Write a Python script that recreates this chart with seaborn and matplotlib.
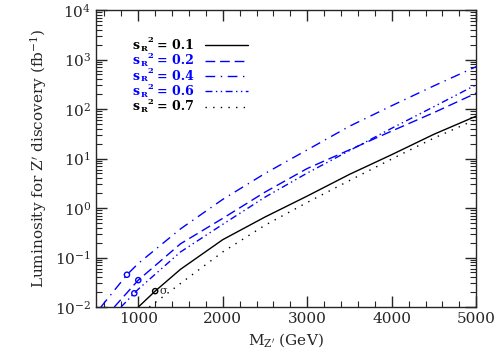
import matplotlib
matplotlib.use("Agg")
import matplotlib.pyplot as plt
from matplotlib.transforms import offset_copy
import seaborn as sns

# Z' discovery luminosity curves
m_01 = [1000, 1200, 1500, 2000, 2500, 3000, 3500, 4000, 4500, 5000]
l_01 = [0.01, 0.021, 0.058, 0.23, 0.66, 1.75, 4.8, 12, 31, 72]

m_02 = [715, 1000, 1500, 2000, 2500, 3000, 3500, 4000, 4500, 5000]
l_02 = [0.01, 0.035, 0.19, 0.62, 2.1, 6.3, 15, 36, 85, 210]

m_04 = [557, 866, 1000, 1500, 2000, 2500, 3000, 3500, 4000, 4500, 5000]
l_04 = [0.01, 0.045, 0.076, 0.38, 1.5, 5.0, 15, 45, 117, 295, 720]

m_06 = [795, 953, 1000, 1500, 2000, 2500, 3000, 3500, 4000, 4500, 5000]
l_06 = [0.01, 0.019, 0.023, 0.13, 0.47, 1.66, 5.1, 14.5, 41, 112, 310]

m_07 = [1130, 1500, 2000, 2500, 3000, 3500, 4000, 4500, 5000]
l_07 = [0.01, 0.030, 0.13, 0.45, 1.3, 3.6, 9.8, 26, 62]

# small circles marking the curves
circ_m = [1200, 1000, 866, 953]
circ_l = [0.021, 0.035, 0.045, 0.019]
circ_c = ["black", "blue", "blue", "blue"]

labels = ["0.1", "0.2", "0.4", "0.6", "0.7"]
colors = ["black", "blue", "blue", "blue", "black"]
styles = ["-", (0, (7, 3.5)), (0, (7, 4, 1, 4)), (0, (5, 2.5, 1, 2.5, 1, 2.5)), (0, (1, 4.5))]

sns.set_style("ticks")
plt.rcParams["font.family"] = ["DejaVu Serif"]
plt.rcParams["mathtext.fontset"] = "dejavuserif"

fig = plt.figure(figsize=(4.95, 3.6), dpi=100)
ax = fig.add_axes([0.194, 0.147, 0.768, 0.825])

curves = [(m_01, l_01), (m_02, l_02), (m_04, l_04), (m_06, l_06), (m_07, l_07)]
for (m, l), c, ls in zip(curves, colors, styles):
    sns.lineplot(x=m, y=l, ax=ax, color=c, linestyle=ls, linewidth=1.0)

for m, l, c in zip(circ_m, circ_l, circ_c):
    ax.scatter([m], [l], s=14, facecolors="none", edgecolors=c, linewidths=1.0, zorder=3)
ax.text(1255, 0.0215, "σ", fontsize=8, va="center", ha="left")

ax.set_yscale("log")
ax.set_xlim(500, 5000)
ax.set_ylim(1e-2, 1e4)
ax.set_xticks([1000, 2000, 3000, 4000, 5000])
ax.set_yticks([1e-2, 1e-1, 1e0, 1e1, 1e2, 1e3, 1e4])
ax.xaxis.set_minor_locator(matplotlib.ticker.MultipleLocator(200))
ax.yaxis.set_minor_locator(matplotlib.ticker.LogLocator(base=10, subs=range(2, 10), numticks=20))
ax.yaxis.set_minor_formatter(matplotlib.ticker.NullFormatter())
ax.tick_params(which="both", direction="in", top=True, right=True, labelsize=11)
ax.tick_params(which="major", length=8, width=1)
ax.tick_params(which="minor", length=4, width=0.8)
for s in ax.spines.values():
    s.set_linewidth(1.0)

ax.set_xlabel(r"M$_{\rm Z'}$ (GeV)", fontsize=11)
ax.set_ylabel(r"Luminosity for Z$'$ discovery (fb$^{-1}$)", fontsize=11)

# legend drawn by hand: s_R^2 = value, then a line sample
for i, (lab, c, ls) in enumerate(zip(labels, colors, styles)):
    yy = 0.882 - i * 0.052
    kw = dict(color=c, fontweight="bold", va="center", ha="left")
    ax.text(0.097, yy, "s", fontsize=9, transform=ax.transAxes, **kw)
    ax.text(0.097, yy, "R", fontsize=6,
            transform=offset_copy(ax.transAxes, fig, x=5.6, y=-2.5, units="points"), **kw)
    ax.text(0.097, yy, "2", fontsize=6,
            transform=offset_copy(ax.transAxes, fig, x=10.2, y=3.5, units="points"), **kw)
    ax.text(0.097, yy, "= " + lab, fontsize=9,
            transform=offset_copy(ax.transAxes, fig, x=17.0, y=0, units="points"), **kw)
    ax.plot([0.287, 0.40], [yy, yy], transform=ax.transAxes, color=c,
            linestyle=ls, linewidth=1.0)

fig.savefig("out.png", dpi=100)
